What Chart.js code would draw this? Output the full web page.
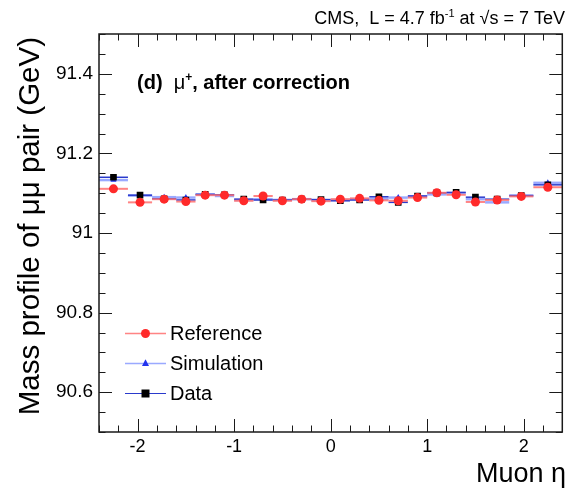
<!DOCTYPE html>
<html>
<head>
<meta charset="utf-8">
<script src="https://cdn.jsdelivr.net/npm/chart.js@4/dist/chart.umd.min.js"></script>
<style>
  html, body { margin: 0; padding: 0; background: #ffffff; }
  #wrap { width: 567px; height: 488px; position: relative; }
</style>
</head>
<body>
<div id="wrap"><canvas id="c" width="567" height="488"></canvas></div>
<script>
// ---- data ----
const binEdges = [-2.4, -2.1, -1.85, -1.6, -1.4, -1.2, -1.0, -0.8, -0.6, -0.4, -0.2, 0,
                  0.2, 0.4, 0.6, 0.8, 1.0, 1.2, 1.4, 1.6, 1.85, 2.1, 2.4];
const etaCenters = [-2.25, -1.975, -1.725, -1.5, -1.3, -1.1, -0.9, -0.7, -0.5, -0.3, -0.1,
                    0.1, 0.3, 0.5, 0.7, 0.9, 1.1, 1.3, 1.5, 1.725, 1.975, 2.25];
const referenceMass = [91.111, 91.077, 91.085, 91.079, 91.095, 91.095, 91.081, 91.093, 91.081, 91.085, 91.080,
                       91.085, 91.087, 91.082, 91.081, 91.089, 91.101, 91.096, 91.078, 91.083, 91.092, 91.115];
const simulationMass = [91.133, 91.094, 91.090, 91.089, 91.097, 91.093, 91.083, 91.085, 91.083, 91.085, 91.082,
                        91.083, 91.085, 91.086, 91.089, 91.092, 91.097, 91.100, 91.085, 91.077, 91.094, 91.126];
const dataMass = [91.140, 91.095, 91.086, 91.083, 91.097, 91.096, 91.085, 91.083, 91.083, 91.085, 91.084,
                  91.081, 91.083, 91.091, 91.077, 91.093, 91.101, 91.102, 91.090, 91.085, 91.094, 91.121];
const xTickValues = [-2, -1, 0, 1, 2];
const xTickLabels = ['-2', '-1', '0', '1', '2'];
const yTickValues = [90.6, 90.8, 91.0, 91.2, 91.4];
const yTickLabels = ['90.6', '90.8', '91', '91.2', '91.4'];
const seriesNames = ['Reference', 'Simulation', 'Data'];

const FONT = '"Liberation Sans", Arial, Helvetica, sans-serif';
const styles = {
  Reference:  { marker: '#ff2a2a', bar: 'rgba(255,110,110,0.85)', barW: 2, pointStyle: 'circle', r: 4.5 },
  Simulation: { marker: '#2233ee', bar: 'rgba(120,140,255,0.75)', barW: 2.5, pointStyle: 'triangle', r: 3.5 },
  Data:       { marker: '#000000', bar: '#2a3acc', barW: 1.5, pointStyle: 'rect', r: 4.7 }
};

function pts(vals) { return etaCenters.map((x, i) => ({ x: x, y: vals[i] })); }
const seriesValues = { Reference: referenceMass, Simulation: simulationMass, Data: dataMass };

const errorBarPlugin = {
  id: 'errorBars',
  beforeDatasetsDraw(chart) {
    const ctx = chart.ctx, xs = chart.scales.x, ys = chart.scales.y;
    ctx.save();
    ['Simulation', 'Data', 'Reference'].forEach(name => {
      const st = styles[name], vals = seriesValues[name];
      ctx.strokeStyle = st.bar; ctx.lineWidth = st.barW;
      vals.forEach((v, i) => {
        const y = ys.getPixelForValue(v);
        ctx.beginPath();
        ctx.moveTo(xs.getPixelForValue(binEdges[i]), y);
        ctx.lineTo(xs.getPixelForValue(binEdges[i + 1]), y);
        ctx.stroke();
      });
    });
    ctx.restore();
  }
};

function drawMarker(ctx, name, x, y) {
  const st = styles[name];
  ctx.fillStyle = st.marker;
  ctx.beginPath();
  if (st.pointStyle === 'circle') { ctx.arc(x, y, st.r, 0, Math.PI * 2); }
  else if (st.pointStyle === 'triangle') {
    ctx.moveTo(x, y - st.r * 1.2); ctx.lineTo(x + st.r, y + st.r * 0.7); ctx.lineTo(x - st.r, y + st.r * 0.7); ctx.closePath();
  } else { ctx.rect(x - st.r * 0.85, y - st.r * 0.85, st.r * 1.7, st.r * 1.7); }
  ctx.fill();
}

const framePlugin = {
  id: 'frame',
  afterDraw(chart) {
    const ctx = chart.ctx, xs = chart.scales.x, ys = chart.scales.y;
    const a = chart.chartArea;
    ctx.save();
    ctx.strokeStyle = '#1a1a1a'; ctx.lineWidth = 1.5;
    ctx.strokeRect(a.left, a.top, a.right - a.left, a.bottom - a.top);
    ctx.lineWidth = 1;
    // x ticks (major + minor), bottom & top, pointing inward
    for (let k = -12; k <= 12; k++) {
      const v = k * 0.2; const px = Math.round(xs.getPixelForValue(v)) + 0.5;
      const major = (k % 5 === 0); const L = major ? 13 : 6.5;
      ctx.beginPath();
      ctx.moveTo(px, a.bottom); ctx.lineTo(px, a.bottom - L);
      ctx.moveTo(px, a.top); ctx.lineTo(px, a.top + L);
      ctx.stroke();
    }
    // y ticks
    for (let k = 0; k <= 20; k++) {
      const v = 90.5 + k * 0.05; const py = Math.round(ys.getPixelForValue(v)) + 0.5;
      const major = ((k - 2) % 4 === 0); const L = major ? 13 : 6.5;
      ctx.beginPath();
      ctx.moveTo(a.left, py); ctx.lineTo(a.left + L, py);
      ctx.moveTo(a.right, py); ctx.lineTo(a.right - L, py);
      ctx.stroke();
    }
    // tick labels
    ctx.fillStyle = '#000';
    ctx.font = '18px ' + FONT;
    ctx.textAlign = 'center'; ctx.textBaseline = 'top';
    xTickValues.forEach((v, i) => ctx.fillText(xTickLabels[i], xs.getPixelForValue(v), a.bottom + 6));
    ctx.font = '19px ' + FONT;
    ctx.textAlign = 'right'; ctx.textBaseline = 'middle';
    yTickValues.forEach((v, i) => ctx.fillText(yTickLabels[i], a.left - 6, ys.getPixelForValue(v)));

    // axis titles
    ctx.font = '27px ' + FONT;
    ctx.textAlign = 'right'; ctx.textBaseline = 'alphabetic';
    ctx.fillText('Muon \u03b7', 566, 482);
    ctx.save();
    ctx.font = '29.5px ' + FONT;
    ctx.translate(39, a.top + 3);
    ctx.rotate(-Math.PI / 2);
    ctx.textAlign = 'right';
    ctx.fillText('Mass profile of \u03bc\u03bc pair (GeV)', 0, 0);
    ctx.restore();

    // top label
    const segs = [
      { t: 'CMS,  L = 4.7 fb', f: '18px ' + FONT, dy: 0 },
      { t: '-1', f: '11px ' + FONT, dy: -7 },
      { t: ' at \u221as = 7 TeV', f: '18px ' + FONT, dy: 0 }
    ];
    let tot = 0;
    segs.forEach(s => { ctx.font = s.f; s.w = ctx.measureText(s.t).width; tot += s.w; });
    let x0 = 565 - tot;
    ctx.textAlign = 'left';
    segs.forEach(s => { ctx.font = s.f; ctx.fillText(s.t, x0, 24 + s.dy); x0 += s.w; });

    // panel label
    const segs2 = [
      { t: '(d)  ', f: 'bold 20px ' + FONT, dy: 0 },
      { t: '\u03bc', f: '20px ' + FONT, dy: 0 },
      { t: '+', f: 'bold 12px ' + FONT, dy: -8 },
      { t: ', after correction', f: 'bold 20px ' + FONT, dy: 0 }
    ];
    x0 = 137;
    segs2.forEach(s => { ctx.font = s.f; ctx.fillText(s.t, x0, 89 + s.dy); x0 += ctx.measureText(s.t).width; });

    // legend
    const rows = [333, 363, 393];
    ctx.font = '20px ' + FONT; ctx.textBaseline = 'middle';
    seriesNames.forEach((name, i) => {
      const y = rows[i];
      ctx.strokeStyle = styles[name].bar; ctx.lineWidth = name === 'Data' ? 1.2 : 1.5;
      ctx.beginPath(); ctx.moveTo(125, y + 0.5); ctx.lineTo(166, y + 0.5); ctx.stroke();
      drawMarker(ctx, name, 145.5, y + 0.5);
      ctx.fillStyle = '#000';
      ctx.fillText(name, 170, y + 1);
    });
    ctx.restore();
  }
};

new Chart(document.getElementById('c'), {
  type: 'scatter',
  data: {
    datasets: seriesNames.map((name, i) => ({
      label: name,
      data: pts(seriesValues[name]),
      pointStyle: styles[name].pointStyle,
      pointRadius: styles[name].r,
      pointBackgroundColor: styles[name].marker,
      pointBorderColor: styles[name].marker,
      pointBorderWidth: 0,
      showLine: false,
      order: name === 'Reference' ? 0 : (name === 'Data' ? 1 : 2)
    }))
  },
  options: {
    responsive: false,
    animation: false,
    layout: { padding: { left: 99, right: 3, top: 34, bottom: 56 } },
    plugins: { legend: { display: false }, tooltip: { enabled: false } },
    scales: {
      x: { type: 'linear', min: -2.4, max: 2.4, display: false },
      y: { type: 'linear', min: 90.5, max: 91.5, display: false }
    }
  },
  plugins: [errorBarPlugin, framePlugin]
});
</script>
</body>
</html>
